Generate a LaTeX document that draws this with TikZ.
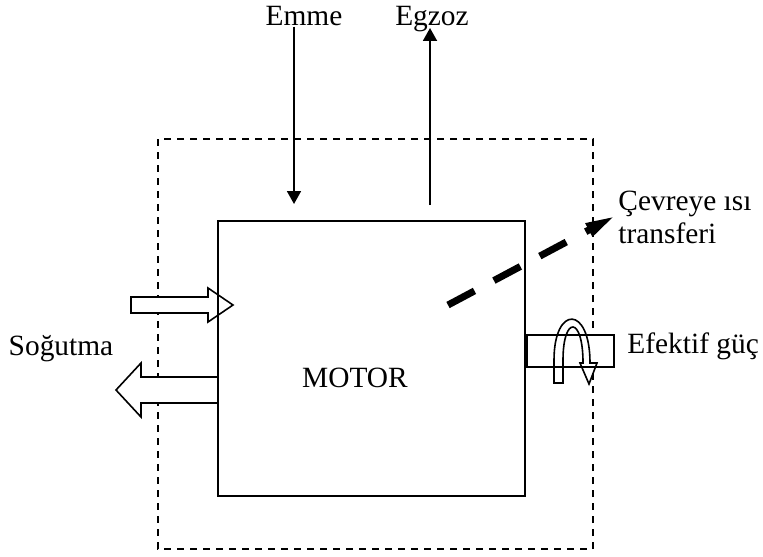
\documentclass[tikz,border=0pt]{standalone}
\usepackage{fontspec}
\setmainfont{Liberation Serif}
\usetikzlibrary{arrows.meta, positioning, calc}

\begin{document}
\begin{tikzpicture}[
    x=0.5pt, y=-0.5pt,
    lbl/.style={inner sep=0pt, font=\fontsize{14.7}{16.5}\selectfont},
    motorbox/.style={rectangle, draw, line width=1pt, minimum width=153.5pt, minimum height=137.5pt, inner sep=0pt},
    sysbound/.style={draw, line width=0.8pt, dash pattern=on 3.5pt off 3pt},
    shaftbox/.style={rectangle, draw, fill=white, line width=0.8pt, minimum width=43.5pt, minimum height=16pt, inner sep=0pt},
    arr/.style={-{Triangle[length=6.5pt, width=7pt]}, line width=0.9pt},
    heatarr/.style={-{Triangle[length=16pt, width=6.5pt]}, line width=3.5pt, dash pattern=on 15pt off 11pt},
    fatarr/.style={draw, fill=white, line width=0.8pt, line join=miter}
]
\useasboundingbox (0,0) rectangle (763,556);

% system boundary
\draw[sysbound] (158,139) rectangle (593,549);

% cooling in / out
\coordinate (cool_in) at (233,305);
\coordinate (cool_out) at (116,390);
\draw[fatarr] (cool_in) -- ++(-25,-17) -- ++(0,9) -- ++(-77,0) -- ++(0,16) -- ++(77,0) -- ++(0,9) -- cycle;
\draw[fatarr] (cool_out) -- ++(25,-27) -- ++(0,14) -- ++(77,0) -- ++(0,26) -- ++(-77,0) -- ++(0,14) -- cycle;
\node[lbl, anchor=base] (sogutma_lbl) at (61,355) {Soğutma};

\node[motorbox] (motor_box) at (371.5,358.5) {};
\node[lbl, anchor=base] (motor_lbl) at (355,387) {MOTOR};

% intake and exhaust
\node[lbl, anchor=base] (emme_lbl) at (304,26) {Emme};
\node[lbl, anchor=base] (egzoz_lbl) at (432,26) {Egzoz};
\coordinate (emme_end) at (294,204);
\coordinate (egzoz_start) at (430,205);
\draw[arr] (emme_lbl.south -| emme_end) -- (emme_end);
\draw[arr] (egzoz_start) -- ([yshift=-1pt]egzoz_lbl.base -| egzoz_start);

% shaft output
\node[shaftbox, anchor=west] (shaft) at (motor_box.east |- 0,351) {};
\draw[line width=0.8pt, line join=miter] (554,383) -- (554,360) .. controls (554,305) and (590,305) .. (590,363) -- (597,363) -- (589,384) -- (580,363) -- (583,363) .. controls (583,315.5) and (563,315.5) .. (563,360) -- (563,383) -- cycle;
\node[lbl, anchor=base west] (guc_lbl) at (627,353) {Efektif güç};

% heat to surroundings
\node[lbl, align=left, anchor=base west] (heat_lbl) at (618,243) {Çevreye ısı\\transferi};
\coordinate (heat_start) at (448,305);
\coordinate (heat_end) at (617,215);
\draw[heatarr] (heat_start) -- (heat_end);

\end{tikzpicture}
\end{document}
